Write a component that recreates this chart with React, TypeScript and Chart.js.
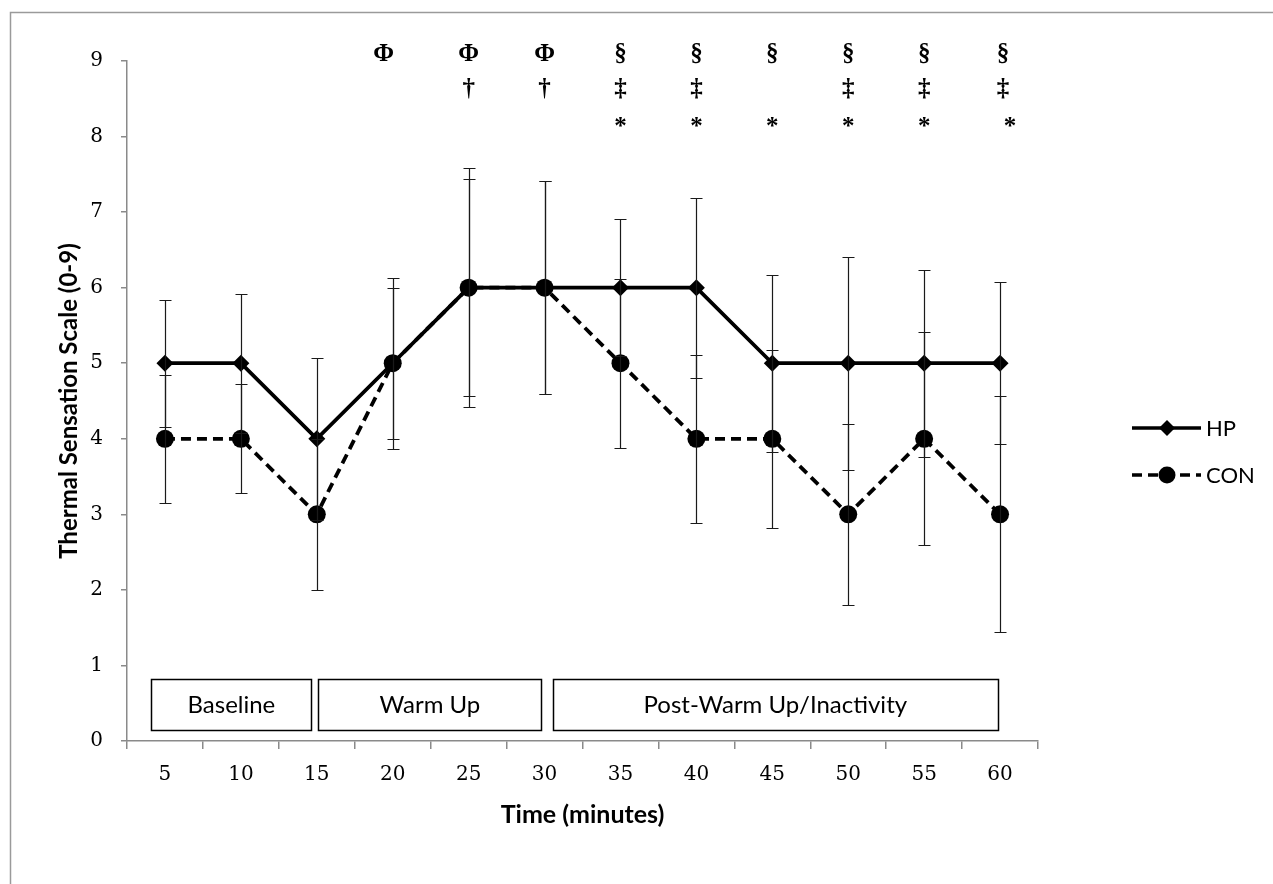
import React, { useEffect, useRef } from 'react';
import { Chart, registerables } from 'chart.js';

Chart.register(...registerables);

const timeLabels = ['5', '10', '15', '20', '25', '30', '35', '40', '45', '50', '55', '60'];
const hpMean = [5, 5, 4, 5, 6, 6, 6, 6, 5, 5, 5, 5];
const hpSd = [0.84, 0.92, 1.07, 1.13, 1.58, 1.41, 0.91, 1.19, 1.17, 1.41, 1.24, 1.07];
const conMean = [4, 4, 3, 5, 6, 6, 5, 4, 4, 3, 4, 3];
const conSd = [0.85, 0.72, 1.0, 1.0, 1.44, 1.41, 1.12, 1.11, 1.18, 1.2, 1.41, 1.56];

const sigRow1 = ['', '', '', 'Φ', 'Φ', 'Φ', '§', '§', '§', '§', '§', '§'];
const sigRow2 = ['', '', '', '', '†', '†', '‡', '‡', '', '‡', '‡', '‡'];
const sigRow3 = ['', '', '', '', '', '', '*', '*', '*', '*', '*', '*'];

const phaseLabels = ['Baseline', 'Warm Up', 'Post-Warm Up/Inactivity'];
const phaseStart = [-0.18, 2.02, 5.11];
const phaseEnd = [1.93, 4.96, 10.97];

const SANS = 'Lato, "Open Sans", sans-serif';
const SERIF = '"DejaVu Serif", serif';
const SYM = '"Liberation Serif", "DejaVu Serif", serif';

const errorBarPlugin = {
  id: 'errorBars',
  afterDatasetsDraw(chart: any) {
    const { ctx } = chart;
    const x = chart.scales.x;
    const y = chart.scales.y;
    const sets: [number[], number[]][] = [
      [hpMean, hpSd],
      [conMean, conSd],
    ];
    ctx.save();
    ctx.strokeStyle = '#1a1a1a';
    ctx.lineWidth = 1.2;
    sets.forEach(([m, s]) => {
      m.forEach((v, i) => {
        const px = Math.round(x.getPixelForValue(i)) + 0.5;
        const top = Math.round(y.getPixelForValue(v + s[i])) + 0.5;
        const bot = Math.round(y.getPixelForValue(v - s[i])) + 0.5;
        ctx.beginPath();
        ctx.moveTo(px, top);
        ctx.lineTo(px, bot);
        ctx.moveTo(px - 6, top);
        ctx.lineTo(px + 6, top);
        ctx.moveTo(px - 6, bot);
        ctx.lineTo(px + 6, bot);
        ctx.stroke();
      });
    });
    ctx.restore();
  },
};

const decorPlugin = {
  id: 'decor',
  afterDraw(chart: any) {
    const { ctx } = chart;
    const x = chart.scales.x;
    const y = chart.scales.y;
    ctx.save();

    // outer frame (partially visible)
    ctx.strokeStyle = '#9a9a9a';
    ctx.lineWidth = 1.5;
    ctx.beginPath();
    ctx.moveTo(10.5, 884);
    ctx.lineTo(10.5, 12.5);
    ctx.lineTo(1273, 12.5);
    ctx.stroke();

    // phase boxes
    ctx.strokeStyle = '#000';
    ctx.lineWidth = 1.5;
    ctx.font = `24px ${SANS}`;
    ctx.textAlign = 'center';
    ctx.textBaseline = 'middle';
    const bTop = y.getPixelForValue(0.82);
    const bBot = y.getPixelForValue(0.15);
    phaseLabels.forEach((lab, i) => {
      const l = x.getPixelForValue(phaseStart[i]);
      const r = x.getPixelForValue(phaseEnd[i]);
      ctx.fillStyle = '#fff';
      ctx.fillRect(l, bTop, r - l, bBot - bTop);
      ctx.strokeRect(Math.round(l) + 0.5, Math.round(bTop) + 0.5, Math.round(r - l), Math.round(bBot - bTop));
      ctx.fillStyle = '#000';
      ctx.fillText(lab, (l + r) / 2, (bTop + bBot) / 2 + 1);
    });

    // significance symbols
    ctx.font = `bold 25px ${SYM}`;
    const rows: [string[], number, number][] = [
      [sigRow1, 9.09, 0],
      [sigRow2, 8.62, 0],
      [sigRow3, 8.21, 7],
    ];
    rows.forEach(([row, val, dy]) => {
      row.forEach((s, i) => {
        if (!s) return;
        let shift = 0;
        if (i === 3) shift = -0.12;
        if (i === 11) shift = s === '*' ? 0.13 : 0.04;
        const px = x.getPixelForValue(i + shift);
        ctx.fillText(s, px, y.getPixelForValue(val) + dy);
      });
    });

    // legend
    const legendItems = [
      { label: 'HP', y: 428, dash: [] as number[], style: 'diamond' },
      { label: 'CON', y: 475, dash: [10, 6], style: 'circle' },
    ];
    legendItems.forEach((it) => {
      ctx.strokeStyle = '#000';
      ctx.lineWidth = 3.5;
      ctx.setLineDash(it.dash);
      ctx.beginPath();
      ctx.moveTo(1132, it.y);
      ctx.lineTo(1201, it.y);
      ctx.stroke();
      ctx.setLineDash([]);
      ctx.fillStyle = '#000';
      ctx.beginPath();
      if (it.style === 'diamond') {
        ctx.moveTo(1167, it.y - 8);
        ctx.lineTo(1175, it.y);
        ctx.lineTo(1167, it.y + 8);
        ctx.lineTo(1159, it.y);
        ctx.closePath();
      } else {
        ctx.arc(1167, it.y, 8.5, 0, Math.PI * 2);
      }
      ctx.fill();
      ctx.font = `22px ${SANS}`;
      ctx.textAlign = 'left';
      ctx.textBaseline = 'middle';
      ctx.fillText(it.label, 1206, it.y + 1);
    });

    ctx.restore();
  },
};

export default function App() {
  const ref = useRef<HTMLCanvasElement>(null);

  useEffect(() => {
    if (!ref.current) return;
    const chart = new Chart(ref.current, {
      type: 'line',
      data: {
        labels: timeLabels,
        datasets: [
          {
            label: 'HP',
            data: hpMean,
            borderColor: '#000',
            backgroundColor: '#000',
            borderWidth: 3.8,
            pointStyle: 'rectRot',
            pointRadius: 8.5,
            pointBorderWidth: 0,
            pointBackgroundColor: '#000',
            tension: 0,
          },
          {
            label: 'CON',
            data: conMean,
            borderColor: '#000',
            backgroundColor: '#000',
            borderWidth: 3.8,
            borderDash: [10, 6],
            pointStyle: 'circle',
            pointRadius: 9,
            pointBorderWidth: 0,
            pointBackgroundColor: '#000',
            tension: 0,
          },
        ],
      },
      options: {
        responsive: false,
        animation: false,
        events: [],
        layout: { padding: { left: 0, top: 61, right: 235, bottom: 0 } },
        plugins: {
          legend: { display: false },
          tooltip: { enabled: false },
        },
        scales: {
          x: {
            type: 'category',
            offset: true,
            grid: {
              display: true,
              drawOnChartArea: false,
              offset: true,
              tickLength: 8,
              color: '#8a8a8a',
              lineWidth: 1.5,
            },
            border: { color: '#8a8a8a', width: 1.5 },
            ticks: {
              color: '#000',
              font: { family: SERIF, size: 20 },
              padding: 14,
              maxRotation: 0,
            },
            title: {
              display: true,
              text: 'Time (minutes)',
              color: '#000',
              font: { family: SANS, size: 25, weight: 'bold' },
              padding: { top: 0, bottom: 54 },
            },
            afterFit: (s: any) => {
              s.height = 143;
            },
          },
          y: {
            min: 0,
            max: 9,
            grid: {
              display: true,
              drawOnChartArea: false,
              tickLength: 6,
              color: '#8a8a8a',
              lineWidth: 1.5,
            },
            border: { color: '#8a8a8a', width: 1.5 },
            ticks: {
              stepSize: 1,
              color: '#000',
              font: { family: SERIF, size: 20 },
              padding: 18,
            },
            title: {
              display: true,
              text: 'Thermal Sensation Scale (0-9)',
              color: '#000',
              font: { family: SANS, size: 24, weight: 'bold' },
              padding: { top: 55, bottom: 0 },
            },
            afterFit: (s: any) => {
              s.width = 127;
            },
          },
        },
      },
      plugins: [errorBarPlugin, decorPlugin],
    });
    return () => chart.destroy();
  }, []);

  return (
    <div style={{ position: 'fixed', left: 0, top: 0, width: 1273, height: 884, background: '#fff' }}>
      <canvas ref={ref} width={1273} height={884} style={{ display: 'block' }} />
    </div>
  );
}
